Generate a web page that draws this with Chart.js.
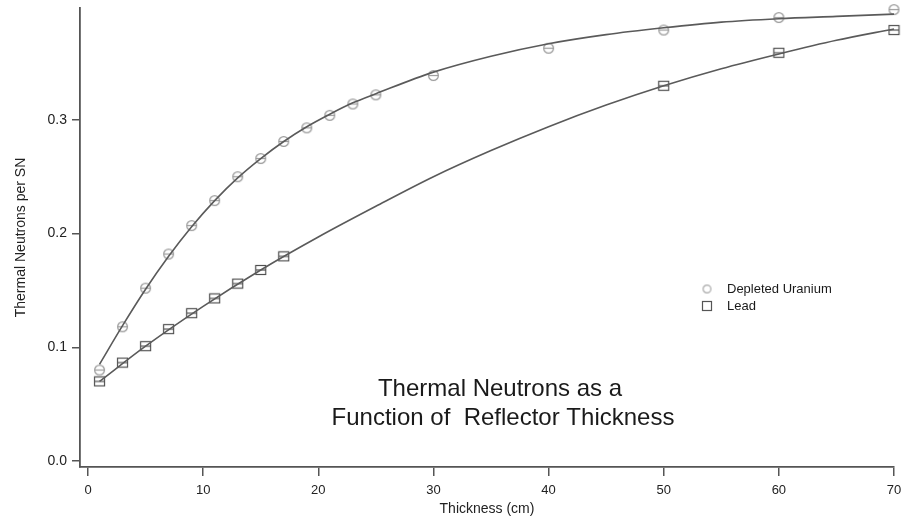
<!DOCTYPE html>
<html lang="en">
<head>
  <meta charset="UTF-8" />
  <title>Thermal Neutrons vs Reflector Thickness</title>
  <script src="https://cdn.jsdelivr.net/npm/chart.js"></script>
  <style>
    body {
      margin: 0;
      background: #ffffff;
      overflow: hidden;
    }
    #wrap {
      width: 904px;
      height: 523px;
    }
  </style>
</head>
<body>
  <div id="wrap">
    <canvas id="chart" width="904" height="523"></canvas>
  </div>

  <script>
    // measured points
    const duThickness = [1, 3, 5, 7, 9, 11, 13, 15, 17, 19, 21, 23, 25, 30, 40, 50, 60, 70];
    const duValues = [0.080, 0.118, 0.152, 0.182, 0.207, 0.229, 0.250, 0.266, 0.281, 0.293, 0.304, 0.314, 0.322, 0.339, 0.363, 0.379, 0.390, 0.397];

    const leadThickness = [1, 3, 5, 7, 9, 11, 13, 15, 17, 50, 60, 70];
    const leadValues = [0.070, 0.0865, 0.101, 0.116, 0.130, 0.143, 0.156, 0.168, 0.180, 0.330, 0.359, 0.379];

    // fit curves
    const duFitX = [1, 3, 5, 7, 9, 11, 13, 15, 17, 19, 21, 23, 25, 30, 35, 40, 45, 50, 55, 60, 65, 70];
    const duFitY = [0.085, 0.119, 0.151, 0.180, 0.206, 0.229, 0.249, 0.266, 0.281, 0.294, 0.305, 0.315, 0.323, 0.342, 0.356, 0.367, 0.375, 0.381, 0.386, 0.389, 0.391, 0.393];

    const leadFitX = [1, 5, 10, 15, 20, 25, 30, 35, 40, 45, 50, 55, 60, 65, 70];
    const leadFitY = [0.070, 0.101, 0.136, 0.168, 0.197, 0.224, 0.250, 0.273, 0.294, 0.313, 0.330, 0.345, 0.358, 0.370, 0.380];

    const xTicks = [0, 10, 20, 30, 40, 50, 60, 70];
    const yTicks = [0, 0.1, 0.2, 0.3];

    const FONT = '"Liberation Sans", Arial, sans-serif';
    const AXIS = '#555555';

    function pts(xs, ys) {
      return xs.map((x, i) => ({ x: x, y: ys[i] }));
    }

    // marker images: circle / square with a short bar through the middle
    function marker(shape, w, h, color, bar) {
      const c = document.createElement('canvas');
      c.width = w + 2;
      c.height = h + 2;
      const g = c.getContext('2d');
      g.strokeStyle = color;
      g.lineWidth = 1.2;
      if (shape === 'circle') {
        g.beginPath();
        g.arc(c.width / 2, c.height / 2, w / 2 - 0.6, 0, Math.PI * 2);
        g.stroke();
      } else {
        g.strokeRect(1.5, 1.5, w - 1, h - 1);
      }
      if (bar) {
        g.beginPath();
        g.moveTo(1.5, c.height / 2);
        g.lineTo(c.width - 1.5, c.height / 2);
        g.stroke();
      }
      return c;
    }

    const duMark = marker('circle', 11, 11, '#9a9a9a', true);
    const leadMark = marker('square', 11, 10, '#505050', true);
    const duLegend = marker('circle', 9, 9, '#a8a8a8', false);
    const leadLegend = marker('square', 10, 10, '#555555', false);

    const notes = {
      id: 'notes',
      afterDraw(chart) {
        const g = chart.ctx;
        g.save();
        g.fillStyle = '#1a1a1a';
        g.textAlign = 'center';
        g.textBaseline = 'middle';
        g.font = '24px ' + FONT;
        g.fillText('Thermal Neutrons as a', 500, 389);
        g.fillText('Function of  Reflector Thickness', 503, 418);

        g.textAlign = 'left';
        g.font = '13px ' + FONT;
        g.drawImage(duLegend, 707 - duLegend.width / 2, 289 - duLegend.height / 2);
        g.fillText('Depleted Uranium', 727, 289);
        g.drawImage(leadLegend, 707 - leadLegend.width / 2, 306 - leadLegend.height / 2);
        g.fillText('Lead', 727, 306);
        g.restore();
      }
    };

    const ctx = document.getElementById('chart').getContext('2d');
    new Chart(ctx, {
      type: 'scatter',
      data: {
        datasets: [
          {
            label: 'DU fit',
            data: pts(duFitX, duFitY),
            showLine: true,
            borderColor: '#5a5a5a',
            borderWidth: 1.6,
            pointRadius: 0,
            clip: false,
            cubicInterpolationMode: 'monotone'
          },
          {
            label: 'Lead fit',
            data: pts(leadFitX, leadFitY),
            showLine: true,
            borderColor: '#5a5a5a',
            borderWidth: 1.6,
            pointRadius: 0,
            clip: false,
            cubicInterpolationMode: 'monotone'
          },
          {
            label: 'Depleted Uranium',
            data: pts(duThickness, duValues),
            clip: false,
            pointStyle: duMark
          },
          {
            label: 'Lead',
            data: pts(leadThickness, leadValues),
            clip: false,
            pointStyle: leadMark
          }
        ]
      },
      options: {
        responsive: false,
        animation: false,
        events: [],
        layout: { padding: { top: 8, right: 10, bottom: 0, left: 0 } },
        plugins: {
          legend: { display: false },
          tooltip: { enabled: false }
        },
        scales: {
          x: {
            type: 'linear',
            min: -0.695,
            max: 70,
            afterBuildTicks: (s) => { s.ticks = xTicks.map(v => ({ value: v })); },
            afterFit: (s) => { s.height = 56; s.paddingLeft = 0; s.paddingRight = 0; },
            grid: { drawOnChartArea: false, drawTicks: true, tickLength: 9, color: AXIS, lineWidth: 1.5 },
            border: { display: true, color: AXIS, width: 1.8 },
            ticks: { color: '#222', padding: 7, font: { family: FONT, size: 13 }, maxRotation: 0 },
            title: { display: true, text: 'Thickness (cm)', color: '#222', padding: { top: 6, bottom: 5 }, font: { family: FONT, size: 14 } }
          },
          y: {
            type: 'linear',
            min: -0.0053,
            max: 0.3984,
            afterBuildTicks: (s) => { s.ticks = yTicks.map(v => ({ value: v })); },
            afterFit: (s) => { s.width = 80; s.paddingTop = 0; s.paddingBottom = 0; },
            grid: { drawOnChartArea: false, drawTicks: true, tickLength: 8, color: AXIS, lineWidth: 1.5 },
            border: { display: true, color: AXIS, width: 1.8 },
            ticks: { color: '#222', padding: 5, font: { family: FONT, size: 14 }, callback: (v) => v.toFixed(1) },
            title: { display: true, text: 'Thermal Neutrons per SN', color: '#222', padding: { top: 13, bottom: 0 }, font: { family: FONT, size: 14 } }
          }
        }
      },
      plugins: [notes]
    });
  </script>
</body>
</html>
